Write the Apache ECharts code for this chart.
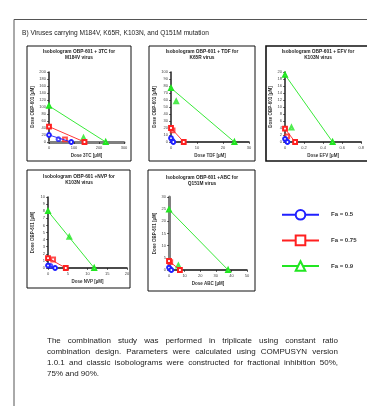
<!DOCTYPE html>
<html>
<head>
<meta charset="utf-8">
<script src="https://cdn.jsdelivr.net/npm/echarts@6/dist/echarts.min.js"></script>
<style>
  html, body {margin: 0; padding: 0; background: #fff;}
  #chart {width: 367px; height: 406px;}
</style>
</head>
<body>
<div id="chart"></div>
<script>
// ---- data ----
const faNames = ['Fa = 0.5', 'Fa = 0.75', 'Fa = 0.9'];
const drugs = ['3TC', 'TDF', 'EFV', 'NVP', 'ABC'];
const viruses = ['M184V', 'K65R', 'K103N', 'K103N', 'Q151M'];
// dose of OBP-601 alone (y intercept), per Fa 0.5 / 0.75 / 0.9
const obpAlone = [[20, 44, 103], [5.5, 20, 77], [0.9, 3.8, 19.2], [0.35, 1.4, 8.0], [1.0, 3.7, 24.8]];
// dose of partner drug alone (x intercept)
const drugAlone = [[89, 142, 227], [0.9, 4.9, 24.4], [0.026, 0.106, 0.5], [1.8, 4.5, 11.7], [1.5, 7, 37.9]];
// combination points
const comboDrug = [[38, 64, 138], [0.5, 0.6, 2], [0.01, 0.023, 0.068], [0.6, 1.3, 5.4], [0.6, 0.8, 6]];
const comboObp = [[8, 7.5, 12], [2, 16.5, 58], [0.5, 1.6, 4.15], [0.3, 1.2, 4.37], [0.5, 3.2, 1.8]];
// axis ranges
const yMax = [200, 100, 20, 10, 30];
const yStep = [20, 10, 2, 1, 5];
const xMax = [300, 30, 0.8, 20, 50];
const xStep = [100, 10, 0.2, 5, 10];

const colors = ['#2020ff', '#ff2020', '#22e622'];
const symbols = ['emptyCircle', 'emptyRect', 'emptyTriangle'];

// panel layout (px)
const grids = [
  {left: 49, top: 72, width: 75, height: 70},
  {left: 171, top: 72, width: 78, height: 70},
  {left: 285, top: 72, width: 83, height: 70},
  {left: 48, top: 197, width: 79, height: 71},
  {left: 169, top: 197, width: 78, height: 73}
];
const boxes = [
  [27, 46, 104, 115], [149, 46, 106, 115], [266, 46, 106, 115],
  [27, 170, 103, 118], [148, 170, 107, 121]
];
const titleX = [79, 202, 318, 79, 202];
const titleY = [55, 55, 55, 180, 181];
const yNameGap = [13.5, 8, 11, 13, 11];
const titlePlus = [' + ', ' + ', ' + ', ' +', ' +'];

var myChart = echarts.init(document.getElementById('chart'));

const xAxes = [], yAxes = [], series = [], graphics = [];

grids.forEach((g, i) => {
  xAxes.push({
    gridIndex: i, type: 'value', min: 0, max: xMax[i], interval: xStep[i],
    name: 'Dose ' + drugs[i] + ' [µM]', nameLocation: 'middle', nameGap: 11,
    nameTextStyle: {fontSize: 4.5, fontWeight: 'bold', color: '#333', fontFamily: 'Liberation Sans'},
    axisLine: {lineStyle: i === 0 ? {color: '#808080', width: 3} : {color: '#111', width: 1.5}},
    axisTick: {show: true, length: 2, lineStyle: {color: '#111', width: 0.6}},
    axisLabel: {fontSize: 4, color: '#444', margin: 4, fontFamily: 'Liberation Sans',
      formatter: v => String(+v.toFixed(2))},
    splitLine: {show: false}
  });
  yAxes.push({
    gridIndex: i, type: 'value', min: 0, max: yMax[i], interval: yStep[i],
    name: 'Dose OBP-601 [µM]', nameLocation: 'middle', nameGap: yNameGap[i],
    nameTextStyle: {fontSize: 4.5, fontWeight: 'bold', color: '#333', fontFamily: 'Liberation Sans'},
    axisLine: {lineStyle: i === 4 ? {color: '#808080', width: 3} : {color: '#222', width: 1.5}},
    axisTick: {show: true, length: 2, lineStyle: {color: '#111', width: 0.6}},
    axisLabel: {fontSize: 4, color: '#444', margin: 3, fontFamily: 'Liberation Sans'},
    splitLine: {show: false}
  });
  faNames.forEach((fa, k) => {
    series.push({
      name: fa, type: 'line', xAxisIndex: i, yAxisIndex: i,
      data: [[0, obpAlone[i][k]], [drugAlone[i][k], 0]],
      symbol: symbols[k], symbolSize: 3.8, clip: false,
      lineStyle: {color: colors[k], width: 0.9},
      itemStyle: {color: colors[k], borderWidth: 0.8}
    });
  });
  faNames.forEach((fa, k) => {
    series.push({
      name: fa, type: 'scatter', xAxisIndex: i, yAxisIndex: i,
      data: [[comboDrug[i][k], comboObp[i][k]]],
      symbol: symbols[k], symbolSize: 3.8, clip: false,
      itemStyle: {color: colors[k], borderWidth: 0.8}
    });
  });
  const b = boxes[i];
  graphics.push({type: 'rect', shape: {x: b[0], y: b[1], width: b[2], height: b[3]},
    style: {fill: 'none', stroke: '#111', lineWidth: i === 2 ? 1.6 : 1}, z: 1});
  graphics.push({type: 'text', x: titleX[i], y: titleY[i],
    style: {text: 'Isobologram OBP-601' + titlePlus[i] + drugs[i] + ' for\n' + viruses[i] + ' virus',
      fontSize: 4.8, fontWeight: 'bold', lineHeight: 6, fill: '#222', align: 'center', verticalAlign: 'middle',
      fontFamily: 'Liberation Sans'}});
});

// frame of the page
graphics.push({type: 'polyline', shape: {points: [[14, 406], [14, 19.5], [367, 19.5]]},
  style: {fill: 'none', stroke: '#555', lineWidth: 1}});
graphics.push({type: 'text', x: 22, y: 33,
  style: {text: 'B) Viruses carrying M184V, K65R, K103N, and Q151M mutation', fontSize: 6.6,
    fill: '#222', verticalAlign: 'middle', fontFamily: 'Liberation Sans'}});

// justified footnote
const noteLines = [
  'The combination study was performed in triplicate using constant ratio',
  'combination design. Parameters were calculated using COMPUSYN version',
  '1.0.1 and classic isobolograms were constructed for fractional inhibition 50%,',
  '75% and 90%.'
];
const ctx = document.createElement('canvas').getContext('2d');
const noteFont = 8;
ctx.font = noteFont + 'px "Liberation Sans"';
const noteLeft = 47, noteRight = 338;
noteLines.forEach((line, li) => {
  const y = 341 + li * 11;
  const words = line.split(' ');
  if (li === noteLines.length - 1) {
    graphics.push({type: 'text', x: noteLeft, y: y,
      style: {text: line, fontSize: noteFont, fill: '#222', verticalAlign: 'middle', fontFamily: 'Liberation Sans'}});
    return;
  }
  const total = words.reduce((s, w) => s + ctx.measureText(w).width, 0);
  const gap = (noteRight - noteLeft - total) / (words.length - 1);
  let x = noteLeft;
  words.forEach(w => {
    graphics.push({type: 'text', x: x, y: y,
      style: {text: w, fontSize: noteFont, fill: '#222', verticalAlign: 'middle', fontFamily: 'Liberation Sans'}});
    x += ctx.measureText(w).width + gap;
  });
});

myChart.setOption({
  animation: false,
  grid: grids,
  xAxis: xAxes,
  yAxis: yAxes,
  series: series,
  legend: {
    data: faNames, orient: 'vertical', left: 276, top: 204,
    itemWidth: 37, itemHeight: 12, itemGap: 14,
    textStyle: {fontSize: 6, fontWeight: 'bold', color: '#333', padding: [0, 0, 0, 7], fontFamily: 'Liberation Sans'}
  },
  graphic: graphics
});
</script>
</body>
</html>
